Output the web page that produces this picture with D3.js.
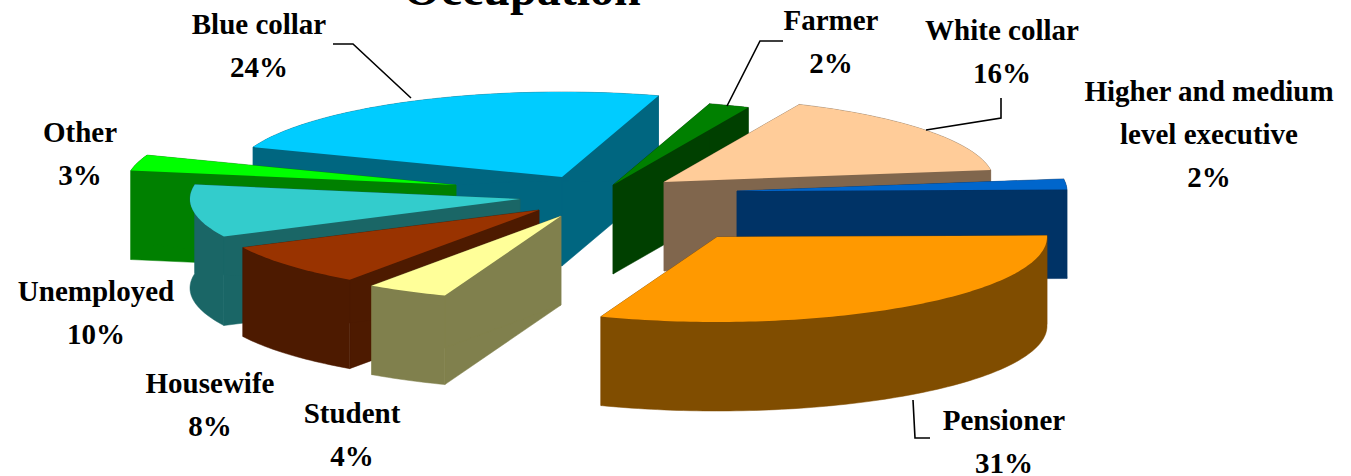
<!DOCTYPE html>
<html><head><meta charset="utf-8">
<script src="https://cdn.jsdelivr.net/npm/d3@7/dist/d3.min.js"></script>
<style>html,body{margin:0;padding:0;background:#fff;overflow:hidden}svg{display:block}</style>
</head><body><svg id="c" width="1351" height="476"></svg>
<script>
// data
const categories = ["Pensioner","Student","Housewife","Unemployed","Other","Blue collar","Farmer","White collar","Higher and medium level executive"];
const shares = [31,4,8,10,3,24,2,16,2];
// styling
const topColors  = ["#FF9900","#FFFF99","#993300","#33CCCC","#00FF00","#00CCFF","#008000","#FFCC99","#0066CC"];
const sideColors = ["#804D00","#80804D","#4D1A00","#1A6666","#008000","#006680","#004000","#80664D","#003366"];
const explodeX = [85,-71,-93,-112,-176,-70,-19,32,105];
const explodeY = [32,11,5,-6,-20,-28,-20,-23,-14];
const drawOrder = [5,4,3,2,1,6,7,8,0];
const labelLines = [["Pensioner","31%"],["Student","4%"],["Housewife","8%"],["Unemployed","10%"],["Other","3%"],["Blue collar","24%"],["Farmer","2%"],["White collar","16%"],["Higher and medium","level executive","2%"]];
const labelX = [1004,352,210,96,80,259,831,1002,1209];
const labelY = [430,423,393,301,142,34,30,40,101];
const leaders = [
  [[913,400],[915,438],[930,438]], null, null, null, null,
  [[333,44],[353,44],[411,98]],
  [[783,41],[760,41],[727,106]],
  [[926,130],[1001,118],[1001,98]],
  null];

const svg = d3.select("#c");
const cx = 632, cy = 205, depth = 89;
const sx = d3.scaleLinear().domain([-1,1]).range([-330,330]);
const sy = d3.scaleLinear().domain([-1,1]).range([-85,85]);
const start = 89*Math.PI/180;
const arcs = d3.pie().sort(null).startAngle(start).endAngle(start+2*Math.PI)(shares);
const line = d3.line();

drawOrder.forEach(i=>{
  const a = arcs[i];
  const ox = cx+explodeX[i], oy = cy+explodeY[i];
  const n = Math.max(2,Math.ceil((a.endAngle-a.startAngle)/0.02));
  const rim = d3.range(n+1).map(k=>{
    const t = a.startAngle+(a.endAngle-a.startAngle)*k/n;
    return [ox+sx(Math.sin(t)), oy+sy(-Math.cos(t))];
  });
  const down = p=>[p[0],p[1]+depth];
  const apex = [ox,oy];
  const g = svg.append("g");
  const walls = [
    [apex,rim[0],down(rim[0]),down(apex)],
    [apex,rim[n],down(rim[n]),down(apex)],
    rim.concat(rim.slice().reverse().map(down))
  ];
  walls.forEach(w=>g.append("path").attr("d",line(w)+"Z").attr("fill",sideColors[i]).attr("stroke",sideColors[i]).attr("stroke-width",0.5));
  g.append("path").attr("d",line([apex].concat(rim))+"Z").attr("fill",topColors[i]);
});

leaders.forEach(l=>{ if(l) svg.append("path").attr("d",line(l)).attr("fill","none").attr("stroke","#000").attr("stroke-width",1.6); });

const font = "'Liberation Serif','Times New Roman',serif";
svg.append("text").attr("x",522).attr("y",5).attr("text-anchor","middle")
  .attr("font-family",font).attr("font-weight","bold").attr("font-size",48).text("Occupation");
labelLines.forEach((ls,i)=>{
  ls.forEach((s,j)=>{
    svg.append("text").attr("x",labelX[i]).attr("y",labelY[i]+j*43).attr("text-anchor","middle")
      .attr("font-family",font).attr("font-weight","bold").attr("font-size",29).attr("fill","#000").text(s);
  });
});
</script></body></html>
